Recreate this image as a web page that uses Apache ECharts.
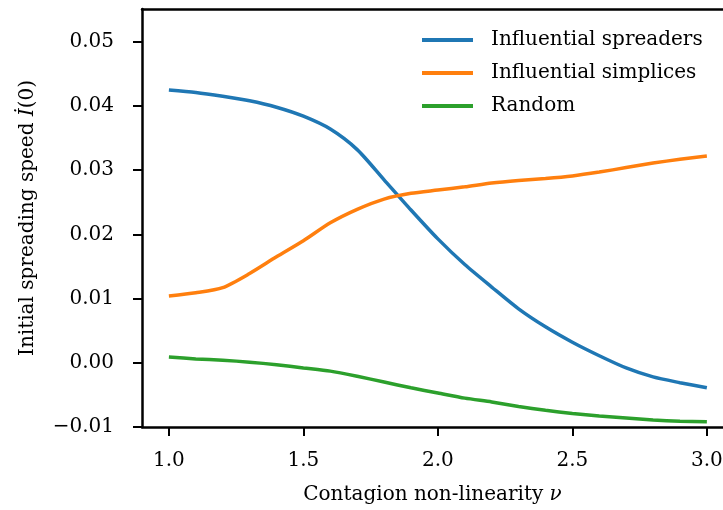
<!DOCTYPE html>
<html>
<head>
<meta charset="utf-8">
<script src="https://cdn.jsdelivr.net/npm/echarts@6/dist/echarts.min.js"></script>
<style>
html, body { margin: 0; padding: 0; background: #fff; }
#main { width: 723px; height: 510px; }
</style>
</head>
<body>
<div id="main"></div>
<script>
var nu = [1.0, 1.1, 1.2, 1.3, 1.4, 1.5, 1.6, 1.7, 1.8, 1.9, 2.0, 2.1, 2.2, 2.3, 2.4, 2.5, 2.6, 2.7, 2.8, 2.9, 3.0];
var spreaders = [0.0425, 0.0421, 0.0415, 0.0408, 0.0398, 0.0384, 0.0364, 0.0332, 0.0285, 0.0238, 0.0193,
	0.0153, 0.0118, 0.0084, 0.0056, 0.0032, 0.0011, -0.0008, -0.0022, -0.0031, -0.0039];
var simplices = [0.0104, 0.0109, 0.0117, 0.0139, 0.0165, 0.0190, 0.0218, 0.0239, 0.0255, 0.0264, 0.0269,
	0.0274, 0.0280, 0.0284, 0.0287, 0.0291, 0.0297, 0.0304, 0.0311, 0.0317, 0.0322];
var random = [0.0009, 0.0006, 0.0004, 0.0001, -0.0003, -0.0008, -0.0013, -0.0021, -0.0030, -0.0039, -0.0047,
	-0.0055, -0.0061, -0.0068, -0.0074, -0.0079, -0.0083, -0.0086, -0.0089, -0.0091, -0.0092];
var xTicks = [1.0, 1.5, 2.0, 2.5, 3.0];
var yTicks = [-0.01, 0.00, 0.01, 0.02, 0.03, 0.04, 0.05];

var FONT = 'DejaVu Serif';

function pairs(ys){
	return nu.map(function(x, i){ return [x, ys[i]]; });
}

function lineSeries(name, ys, color){
	return {
		name: name,
		type: 'line',
		showSymbol: false,
		symbol: 'none',
		smooth: 0.25,
		lineStyle: { color: color, width: 3.5 },
		itemStyle: { color: color },
		emphasis: { disabled: true },
		data: pairs(ys)
	};
}

var myChart = echarts.init(document.getElementById('main'));
var option = {
	animation: false,
	backgroundColor: '#fff',
	textStyle: { fontFamily: FONT },
	grid: {
		left: 142,
		top: 9,
		right: 0,
		height: 418,
		outerBoundsMode: 'none',
		show: false
	},
	legend: {
		orient: 'vertical',
		left: 422,
		top: 29,
		padding: 0,
		itemWidth: 51,
		itemHeight: 4,
		itemGap: 11,
		icon: 'rect',
		textStyle: { fontFamily: FONT, fontSize: 20, color: '#000', lineHeight: 22, padding: [0, 0, 0, 13] },
		data: ['Influential spreaders', 'Influential simplices', 'Random']
	},
	xAxis: [{
		type: 'value',
		min: 0.9,
		max: 3.06,
		splitLine: { show: false },
		axisLine: { show: true, onZero: false, lineStyle: { color: '#000', width: 2.5 } },
		axisTick: { show: true, length: 9, lineStyle: { color: '#000', width: 2 }, customValues: xTicks },
		axisLabel: {
			fontFamily: FONT, fontSize: 20, color: '#000', margin: 24,
			customValues: xTicks,
			formatter: function(v){ return v.toFixed(1); }
		},
		name: '{n|Contagion non-linearity }{it|ν}',
		nameLocation: 'middle',
		nameGap: 58,
		nameTextStyle: {
			fontFamily: FONT, fontSize: 20, color: '#000',
			rich: {
				n: { fontFamily: FONT, fontSize: 20, color: '#000' },
				it: { fontFamily: FONT, fontSize: 20, color: '#000', fontStyle: 'italic' }
			}
		}
	}, {
		// top spine only
		type: 'value',
		position: 'top',
		min: 0.9,
		max: 3.06,
		splitLine: { show: false },
		axisLine: { show: true, onZero: false, lineStyle: { color: '#000', width: 2.5 } },
		axisTick: { show: false },
		axisLabel: { show: false }
	}],
	yAxis: {
		type: 'value',
		min: -0.01,
		max: 0.0551,
		splitLine: { show: false },
		axisLine: { show: true, onZero: false, lineStyle: { color: '#000', width: 2.5 } },
		axisTick: { show: true, length: 9, lineStyle: { color: '#000', width: 2 }, customValues: yTicks },
		axisLabel: {
			fontFamily: FONT, fontSize: 20, color: '#000', margin: 28,
			customValues: yTicks,
			formatter: function(v){
				var s = Math.abs(v).toFixed(2);
				return v < -1e-9 ? '\u2212' + s : s;
			}
		},
		name: '{n|Initial spreading speed }{it|İ}{n|(0)}',
		nameLocation: 'middle',
		nameGap: 104,
		nameTextStyle: {
			fontFamily: FONT, fontSize: 20, color: '#000',
			rich: {
				n: { fontFamily: FONT, fontSize: 20, color: '#000' },
				it: { fontFamily: FONT, fontSize: 20, color: '#000', fontStyle: 'italic' }
			}
		}
	},
	series: [
		lineSeries('Influential spreaders', spreaders, '#1f77b4'),
		lineSeries('Influential simplices', simplices, '#ff7f0e'),
		lineSeries('Random', random, '#2ca02c')
	]
};

myChart.setOption(option);
window.addEventListener("resize", function(){
	myChart.resize();
});
</script>
</body>
</html>
